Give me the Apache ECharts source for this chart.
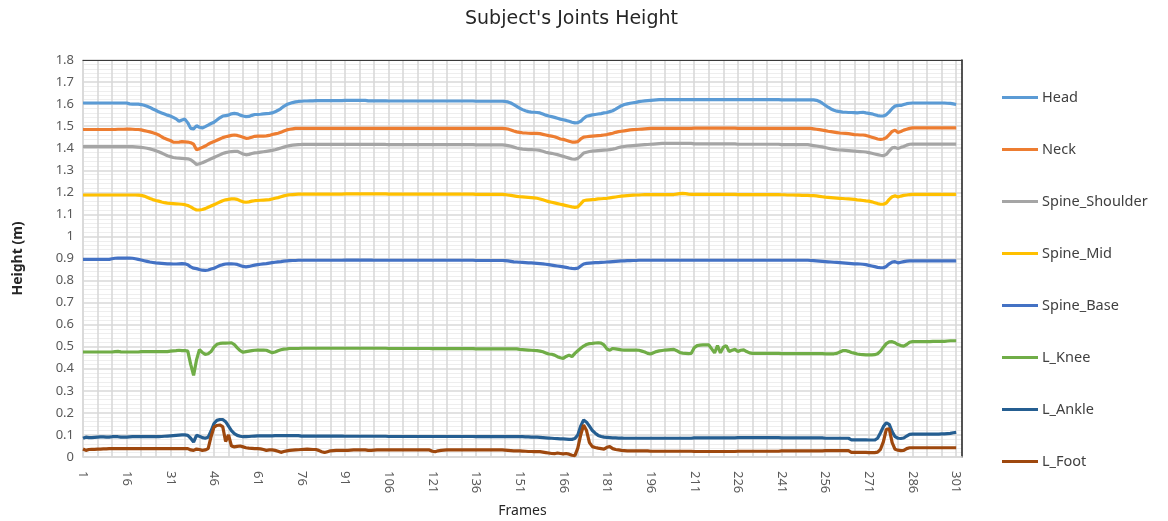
<!DOCTYPE html>
<html>
<head>
<meta charset="utf-8">
<script src="https://cdn.jsdelivr.net/npm/echarts@6/dist/echarts.min.js"></script>
<style>
html,body{margin:0;padding:0;background:#fff;}
#chart{width:1168px;height:521px;}
</style>
</head>
<body>
<div id="chart"></div>
<script>
// Frames 1..303 (data recorded for frames 1..301)
const frames = Array.from({length: 303}, (_, i) => String(i + 1));
const seriesNames = ['Head','Neck','Spine_Shoulder','Spine_Mid','Spine_Base','L_Knee','L_Ankle','L_Foot'];

const head = [
1.605,1.605,1.605,1.605,1.605,1.605,1.605,1.605,1.605,1.605,1.605,1.605,1.605,1.605,1.605,
1.605,1.601,1.600,1.600,1.600,1.598,1.595,1.590,1.585,1.578,1.572,1.565,1.560,1.555,1.550,
1.546,1.540,1.533,1.522,1.528,1.532,1.515,1.490,1.488,1.502,1.495,1.492,1.498,1.505,1.512,
1.518,1.528,1.538,1.546,1.548,1.550,1.556,1.558,1.556,1.550,1.546,1.543,1.544,1.549,1.553,
1.553,1.554,1.556,1.557,1.558,1.560,1.565,1.572,1.580,1.590,1.598,1.603,1.607,1.610,1.612,
1.613,1.614,1.614,1.615,1.615,1.616,1.616,1.616,1.616,1.616,1.616,1.616,1.616,1.616,1.616,
1.617,1.617,1.617,1.617,1.617,1.617,1.617,1.617,1.615,1.615,1.615,1.615,1.615,1.615,1.615,
1.614,1.614,1.614,1.614,1.614,1.614,1.614,1.614,1.614,1.614,1.614,1.614,1.614,1.614,1.614,
1.614,1.614,1.614,1.614,1.614,1.614,1.614,1.614,1.614,1.614,1.614,1.614,1.614,1.614,1.614,
1.613,1.613,1.613,1.613,1.613,1.613,1.613,1.613,1.613,1.613,1.612,1.610,1.605,1.598,1.590,
1.582,1.575,1.570,1.566,1.564,1.563,1.562,1.560,1.555,1.550,1.546,1.543,1.540,1.536,1.532,
1.529,1.526,1.522,1.518,1.515,1.516,1.522,1.535,1.545,1.548,1.551,1.553,1.555,1.557,1.560,
1.562,1.566,1.570,1.577,1.585,1.593,1.598,1.601,1.604,1.606,1.608,1.611,1.613,1.615,1.616,
1.617,1.618,1.619,1.620,1.620,1.620,1.620,1.620,1.620,1.620,1.620,1.620,1.620,1.620,1.620,
1.620,1.620,1.620,1.620,1.620,1.620,1.620,1.620,1.620,1.620,1.620,1.620,1.620,1.620,1.620,
1.620,1.620,1.620,1.620,1.620,1.620,1.620,1.620,1.620,1.620,1.620,1.620,1.620,1.620,1.620,
1.619,1.619,1.619,1.619,1.619,1.619,1.619,1.619,1.619,1.619,1.619,1.619,1.617,1.612,1.604,
1.595,1.586,1.578,1.572,1.568,1.566,1.564,1.563,1.562,1.562,1.561,1.560,1.562,1.563,1.560,
1.558,1.556,1.552,1.548,1.546,1.546,1.552,1.565,1.580,1.591,1.594,1.594,1.598,1.602,1.604,
1.605,1.605,1.605,1.605,1.605,1.605,1.605,1.605,1.605,1.605,1.605,1.605,1.604,1.603,1.601,
1.598];

const neck = [
1.485,1.485,1.485,1.485,1.485,1.485,1.485,1.485,1.485,1.485,1.485,1.485,1.486,1.486,1.486,
1.487,1.487,1.486,1.485,1.485,1.483,1.480,1.477,1.474,1.470,1.466,1.460,1.452,1.445,1.440,
1.435,1.428,1.427,1.428,1.430,1.429,1.428,1.425,1.418,1.393,1.398,1.404,1.410,1.418,1.425,
1.430,1.436,1.442,1.448,1.452,1.455,1.458,1.460,1.458,1.454,1.450,1.445,1.446,1.450,1.454,
1.455,1.455,1.455,1.456,1.458,1.462,1.465,1.468,1.472,1.478,1.483,1.486,1.488,1.490,1.490,
1.490,1.490,1.490,1.490,1.490,1.490,1.490,1.490,1.490,1.490,1.490,1.490,1.490,1.490,1.490,
1.490,1.490,1.490,1.490,1.490,1.490,1.490,1.490,1.490,1.490,1.490,1.490,1.490,1.490,1.490,
1.490,1.490,1.490,1.490,1.490,1.490,1.490,1.490,1.490,1.490,1.490,1.490,1.490,1.490,1.490,
1.490,1.490,1.490,1.490,1.490,1.490,1.490,1.490,1.490,1.490,1.490,1.490,1.490,1.490,1.490,
1.490,1.490,1.490,1.490,1.490,1.490,1.490,1.490,1.490,1.490,1.489,1.487,1.483,1.478,1.474,
1.472,1.470,1.469,1.468,1.467,1.467,1.467,1.466,1.463,1.460,1.457,1.455,1.452,1.447,1.442,
1.440,1.436,1.432,1.428,1.428,1.430,1.442,1.450,1.452,1.454,1.455,1.456,1.457,1.458,1.460,
1.462,1.465,1.468,1.472,1.475,1.477,1.479,1.481,1.483,1.484,1.485,1.486,1.487,1.488,1.489,
1.490,1.490,1.490,1.490,1.490,1.490,1.490,1.490,1.490,1.490,1.490,1.490,1.490,1.490,1.490,
1.491,1.491,1.491,1.491,1.491,1.491,1.491,1.491,1.491,1.491,1.491,1.491,1.491,1.491,1.491,
1.490,1.490,1.490,1.490,1.490,1.490,1.490,1.490,1.490,1.490,1.490,1.490,1.490,1.490,1.490,
1.490,1.490,1.490,1.490,1.490,1.490,1.490,1.490,1.490,1.490,1.490,1.488,1.486,1.484,1.482,
1.480,1.477,1.475,1.473,1.471,1.469,1.468,1.467,1.466,1.464,1.462,1.461,1.460,1.460,1.458,
1.454,1.450,1.446,1.442,1.440,1.442,1.448,1.462,1.476,1.482,1.471,1.476,1.482,1.486,1.490,
1.492,1.492,1.492,1.492,1.492,1.492,1.492,1.492,1.492,1.492,1.492,1.492,1.492,1.492,1.492,
1.492];

const spineShoulder = [
1.407,1.407,1.407,1.407,1.407,1.407,1.407,1.407,1.407,1.407,1.407,1.407,1.407,1.407,1.407,
1.407,1.407,1.407,1.406,1.405,1.404,1.402,1.400,1.397,1.393,1.389,1.384,1.378,1.372,1.366,
1.362,1.358,1.356,1.355,1.354,1.353,1.352,1.348,1.338,1.326,1.330,1.334,1.340,1.346,1.352,
1.358,1.364,1.370,1.376,1.380,1.383,1.385,1.386,1.386,1.380,1.374,1.370,1.372,1.376,1.379,
1.380,1.382,1.384,1.386,1.388,1.390,1.393,1.397,1.401,1.405,1.409,1.412,1.414,1.415,1.416,
1.417,1.417,1.417,1.417,1.417,1.417,1.417,1.417,1.417,1.417,1.417,1.417,1.417,1.417,1.417,
1.417,1.417,1.417,1.417,1.417,1.417,1.417,1.417,1.417,1.417,1.417,1.417,1.417,1.417,1.417,
1.416,1.416,1.416,1.416,1.416,1.416,1.416,1.416,1.416,1.416,1.416,1.416,1.416,1.416,1.416,
1.416,1.416,1.416,1.416,1.416,1.416,1.416,1.416,1.416,1.416,1.416,1.416,1.416,1.416,1.416,
1.415,1.415,1.415,1.415,1.415,1.415,1.415,1.415,1.415,1.415,1.414,1.412,1.409,1.405,1.401,
1.398,1.396,1.395,1.394,1.394,1.393,1.392,1.390,1.386,1.382,1.379,1.377,1.374,1.371,1.367,
1.363,1.359,1.355,1.351,1.350,1.354,1.365,1.378,1.382,1.385,1.387,1.388,1.389,1.390,1.391,
1.392,1.394,1.396,1.399,1.403,1.406,1.408,1.410,1.411,1.412,1.413,1.414,1.415,1.416,1.417,
1.418,1.419,1.420,1.421,1.422,1.422,1.422,1.422,1.422,1.422,1.422,1.422,1.422,1.422,1.422,
1.420,1.420,1.420,1.420,1.420,1.420,1.420,1.420,1.420,1.420,1.420,1.420,1.420,1.420,1.420,
1.418,1.418,1.418,1.418,1.418,1.418,1.418,1.418,1.418,1.418,1.418,1.418,1.418,1.418,1.418,
1.416,1.416,1.416,1.416,1.416,1.416,1.416,1.416,1.416,1.416,1.414,1.412,1.410,1.408,1.406,
1.403,1.400,1.397,1.395,1.393,1.392,1.391,1.390,1.389,1.388,1.387,1.386,1.385,1.384,1.383,
1.380,1.377,1.374,1.371,1.368,1.366,1.372,1.388,1.402,1.404,1.398,1.404,1.408,1.414,1.418,
1.419,1.419,1.419,1.419,1.419,1.419,1.419,1.419,1.419,1.419,1.419,1.419,1.419,1.419,1.419,
1.419];

const spineMid = [
1.188,1.188,1.188,1.188,1.188,1.188,1.188,1.188,1.188,1.188,1.188,1.188,1.188,1.188,1.188,
1.188,1.188,1.188,1.188,1.187,1.186,1.183,1.178,1.172,1.167,1.163,1.160,1.156,1.153,1.151,
1.150,1.149,1.148,1.147,1.146,1.144,1.140,1.134,1.126,1.120,1.120,1.122,1.126,1.132,1.138,
1.144,1.150,1.156,1.162,1.166,1.168,1.170,1.170,1.168,1.162,1.157,1.155,1.157,1.160,1.162,
1.163,1.164,1.165,1.166,1.167,1.170,1.173,1.176,1.180,1.184,1.187,1.189,1.190,1.191,1.192,
1.192,1.192,1.192,1.192,1.192,1.192,1.192,1.192,1.192,1.192,1.192,1.192,1.192,1.192,1.192,
1.193,1.193,1.193,1.193,1.193,1.193,1.193,1.193,1.193,1.193,1.193,1.193,1.193,1.193,1.193,
1.192,1.192,1.192,1.192,1.192,1.192,1.192,1.192,1.192,1.192,1.192,1.192,1.192,1.192,1.192,
1.192,1.192,1.192,1.192,1.192,1.192,1.192,1.192,1.192,1.192,1.192,1.192,1.192,1.192,1.192,
1.191,1.191,1.191,1.191,1.191,1.191,1.191,1.191,1.191,1.191,1.190,1.188,1.186,1.184,1.182,
1.180,1.179,1.178,1.177,1.176,1.175,1.173,1.170,1.166,1.162,1.158,1.155,1.152,1.149,1.146,
1.143,1.140,1.137,1.134,1.132,1.134,1.148,1.162,1.165,1.166,1.167,1.168,1.170,1.171,1.172,
1.173,1.175,1.177,1.179,1.181,1.183,1.184,1.185,1.186,1.187,1.188,1.188,1.189,1.190,1.190,
1.190,1.190,1.190,1.190,1.190,1.190,1.190,1.190,1.190,1.192,1.194,1.195,1.194,1.192,1.191,
1.191,1.191,1.191,1.191,1.191,1.191,1.191,1.191,1.191,1.191,1.191,1.191,1.191,1.191,1.191,
1.190,1.190,1.190,1.190,1.190,1.190,1.190,1.190,1.190,1.190,1.190,1.190,1.190,1.190,1.190,
1.189,1.189,1.188,1.188,1.188,1.187,1.187,1.186,1.186,1.186,1.185,1.185,1.184,1.182,1.180,
1.178,1.177,1.176,1.175,1.174,1.173,1.172,1.171,1.170,1.169,1.168,1.166,1.165,1.163,1.161,
1.160,1.157,1.153,1.149,1.146,1.146,1.152,1.168,1.180,1.184,1.179,1.183,1.186,1.188,1.190,
1.191,1.191,1.191,1.191,1.191,1.191,1.191,1.191,1.191,1.191,1.191,1.191,1.191,1.191,1.191,
1.191];

const spineBase = [
0.896,0.896,0.896,0.896,0.896,0.896,0.896,0.896,0.896,0.896,0.899,0.901,0.902,0.902,0.902,
0.902,0.902,0.901,0.899,0.896,0.893,0.890,0.887,0.884,0.882,0.880,0.879,0.878,0.877,0.876,
0.876,0.875,0.875,0.876,0.877,0.876,0.872,0.862,0.856,0.854,0.850,0.847,0.846,0.848,0.852,
0.856,0.862,0.868,0.872,0.875,0.876,0.876,0.875,0.873,0.868,0.864,0.862,0.864,0.867,0.870,
0.872,0.874,0.876,0.877,0.879,0.881,0.883,0.885,0.886,0.888,0.889,0.890,0.891,0.891,0.892,
0.892,0.892,0.892,0.892,0.892,0.892,0.892,0.892,0.892,0.892,0.892,0.892,0.892,0.892,0.892,
0.893,0.893,0.893,0.893,0.893,0.893,0.893,0.893,0.893,0.893,0.892,0.892,0.892,0.892,0.892,
0.892,0.892,0.892,0.892,0.892,0.892,0.892,0.892,0.892,0.892,0.892,0.892,0.892,0.892,0.892,
0.892,0.892,0.892,0.892,0.892,0.892,0.892,0.892,0.892,0.892,0.892,0.892,0.892,0.892,0.892,
0.891,0.891,0.891,0.891,0.891,0.891,0.891,0.891,0.891,0.891,0.890,0.889,0.887,0.885,0.884,
0.883,0.882,0.881,0.880,0.880,0.879,0.878,0.877,0.876,0.874,0.872,0.870,0.868,0.866,0.864,
0.862,0.860,0.857,0.855,0.854,0.856,0.866,0.875,0.878,0.879,0.880,0.881,0.881,0.882,0.883,
0.884,0.885,0.886,0.887,0.888,0.889,0.889,0.890,0.890,0.891,0.891,0.892,0.892,0.892,0.892,
0.892,0.892,0.892,0.892,0.892,0.892,0.892,0.892,0.892,0.892,0.892,0.892,0.892,0.892,0.892,
0.892,0.892,0.892,0.892,0.892,0.892,0.892,0.892,0.892,0.892,0.892,0.892,0.892,0.892,0.892,
0.892,0.892,0.892,0.892,0.892,0.892,0.892,0.892,0.892,0.892,0.892,0.892,0.892,0.892,0.892,
0.892,0.892,0.892,0.892,0.892,0.892,0.892,0.892,0.892,0.892,0.891,0.890,0.889,0.888,0.887,
0.886,0.885,0.884,0.883,0.882,0.881,0.880,0.879,0.878,0.877,0.876,0.876,0.875,0.874,0.872,
0.869,0.866,0.863,0.860,0.858,0.858,0.864,0.876,0.884,0.886,0.880,0.883,0.886,0.888,0.889,
0.889,0.889,0.889,0.889,0.889,0.889,0.889,0.889,0.889,0.889,0.889,0.889,0.889,0.889,0.889,
0.889];

const lKnee = [
0.476,0.476,0.476,0.476,0.476,0.476,0.476,0.476,0.476,0.476,0.476,0.478,0.479,0.477,0.476,
0.476,0.476,0.476,0.476,0.476,0.478,0.478,0.478,0.478,0.478,0.478,0.478,0.478,0.478,0.478,
0.480,0.481,0.482,0.484,0.482,0.483,0.480,0.420,0.370,0.440,0.487,0.474,0.465,0.468,0.478,
0.498,0.511,0.515,0.516,0.516,0.517,0.518,0.510,0.495,0.482,0.475,0.478,0.480,0.482,0.484,
0.485,0.485,0.485,0.484,0.478,0.473,0.476,0.482,0.486,0.489,0.490,0.492,0.492,0.492,0.492,
0.493,0.493,0.493,0.493,0.493,0.493,0.493,0.493,0.493,0.493,0.493,0.493,0.493,0.493,0.493,
0.493,0.493,0.493,0.493,0.493,0.493,0.493,0.493,0.493,0.493,0.493,0.493,0.493,0.493,0.493,
0.492,0.492,0.492,0.492,0.492,0.492,0.492,0.492,0.492,0.492,0.492,0.492,0.492,0.492,0.492,
0.491,0.491,0.491,0.491,0.491,0.491,0.491,0.491,0.491,0.491,0.491,0.491,0.491,0.491,0.491,
0.490,0.490,0.490,0.490,0.490,0.490,0.490,0.490,0.490,0.490,0.490,0.490,0.490,0.490,0.490,
0.488,0.487,0.486,0.485,0.484,0.483,0.482,0.480,0.477,0.472,0.467,0.466,0.462,0.455,0.450,
0.447,0.456,0.462,0.455,0.470,0.482,0.493,0.503,0.510,0.514,0.515,0.517,0.518,0.516,0.508,
0.490,0.484,0.492,0.490,0.488,0.486,0.485,0.485,0.485,0.485,0.485,0.484,0.480,0.476,0.470,
0.467,0.473,0.478,0.481,0.483,0.485,0.486,0.487,0.488,0.482,0.474,0.471,0.470,0.469,0.470,
0.495,0.505,0.507,0.508,0.508,0.508,0.490,0.472,0.505,0.472,0.498,0.505,0.478,0.484,0.488,
0.478,0.484,0.486,0.478,0.472,0.470,0.470,0.470,0.470,0.470,0.470,0.470,0.470,0.470,0.470,
0.469,0.469,0.469,0.469,0.469,0.469,0.469,0.469,0.469,0.469,0.469,0.469,0.469,0.469,0.469,
0.468,0.468,0.468,0.468,0.470,0.476,0.482,0.483,0.479,0.474,0.471,0.467,0.465,0.464,0.463,
0.463,0.463,0.464,0.468,0.480,0.498,0.514,0.522,0.523,0.518,0.510,0.505,0.503,0.510,0.520,
0.523,0.523,0.523,0.523,0.523,0.523,0.523,0.524,0.524,0.524,0.524,0.524,0.526,0.527,0.527,
0.527];

const lAnkle = [
0.085,0.090,0.088,0.088,0.089,0.090,0.091,0.091,0.090,0.090,0.092,0.093,0.092,0.090,0.090,
0.090,0.091,0.092,0.092,0.092,0.092,0.092,0.092,0.092,0.092,0.092,0.092,0.093,0.094,0.095,
0.096,0.097,0.098,0.099,0.100,0.100,0.098,0.085,0.068,0.098,0.094,0.088,0.085,0.090,0.118,
0.152,0.166,0.170,0.170,0.160,0.140,0.120,0.106,0.098,0.094,0.092,0.092,0.093,0.094,0.095,
0.096,0.096,0.096,0.096,0.096,0.096,0.097,0.097,0.097,0.097,0.097,0.097,0.097,0.097,0.097,
0.095,0.095,0.095,0.095,0.095,0.095,0.095,0.095,0.095,0.095,0.095,0.095,0.095,0.095,0.095,
0.094,0.094,0.094,0.094,0.094,0.094,0.094,0.094,0.094,0.094,0.094,0.094,0.094,0.094,0.094,
0.093,0.093,0.093,0.093,0.093,0.093,0.093,0.093,0.093,0.093,0.093,0.093,0.093,0.093,0.093,
0.093,0.093,0.093,0.093,0.093,0.093,0.093,0.093,0.093,0.093,0.093,0.093,0.093,0.093,0.093,
0.092,0.092,0.092,0.092,0.092,0.092,0.092,0.092,0.092,0.092,0.092,0.092,0.092,0.092,0.092,
0.092,0.092,0.091,0.091,0.090,0.090,0.090,0.089,0.088,0.087,0.086,0.085,0.084,0.083,0.082,
0.082,0.081,0.080,0.080,0.084,0.100,0.140,0.168,0.158,0.140,0.120,0.108,0.098,0.093,0.090,
0.089,0.088,0.087,0.087,0.086,0.086,0.085,0.085,0.085,0.085,0.085,0.085,0.085,0.085,0.085,
0.085,0.085,0.085,0.085,0.085,0.085,0.085,0.085,0.085,0.085,0.085,0.085,0.085,0.085,0.085,
0.087,0.087,0.087,0.087,0.087,0.087,0.087,0.087,0.087,0.087,0.087,0.087,0.087,0.087,0.087,
0.088,0.088,0.088,0.088,0.088,0.088,0.088,0.088,0.088,0.088,0.088,0.088,0.088,0.088,0.088,
0.087,0.087,0.087,0.087,0.087,0.087,0.087,0.087,0.087,0.087,0.087,0.087,0.087,0.087,0.087,
0.085,0.085,0.085,0.085,0.085,0.085,0.085,0.085,0.085,0.078,0.078,0.078,0.078,0.078,0.078,
0.077,0.077,0.077,0.085,0.110,0.138,0.155,0.148,0.115,0.092,0.085,0.084,0.086,0.095,0.103,
0.104,0.104,0.104,0.104,0.104,0.104,0.104,0.104,0.104,0.104,0.105,0.105,0.106,0.107,0.110,
0.112];

const lFoot = [
0.036,0.030,0.034,0.035,0.035,0.036,0.036,0.037,0.037,0.038,0.038,0.038,0.038,0.038,0.038,
0.038,0.038,0.038,0.038,0.038,0.038,0.038,0.038,0.038,0.038,0.038,0.038,0.038,0.038,0.038,
0.038,0.038,0.038,0.038,0.038,0.038,0.038,0.032,0.030,0.036,0.034,0.030,0.032,0.038,0.092,
0.135,0.143,0.145,0.138,0.070,0.100,0.050,0.046,0.048,0.050,0.046,0.042,0.040,0.039,0.038,
0.038,0.037,0.034,0.030,0.032,0.032,0.030,0.026,0.021,0.025,0.028,0.030,0.031,0.032,0.033,
0.034,0.035,0.036,0.035,0.034,0.034,0.030,0.024,0.020,0.024,0.028,0.029,0.030,0.030,0.030,
0.030,0.030,0.031,0.032,0.032,0.032,0.032,0.032,0.030,0.030,0.031,0.032,0.032,0.032,0.032,
0.032,0.032,0.032,0.032,0.032,0.032,0.032,0.032,0.032,0.032,0.032,0.032,0.032,0.032,0.032,
0.026,0.024,0.028,0.030,0.031,0.032,0.032,0.032,0.032,0.032,0.032,0.032,0.032,0.032,0.032,
0.032,0.032,0.032,0.032,0.032,0.032,0.032,0.032,0.032,0.032,0.031,0.030,0.029,0.028,0.028,
0.028,0.027,0.026,0.025,0.025,0.024,0.024,0.024,0.022,0.020,0.018,0.016,0.015,0.018,0.016,
0.014,0.016,0.013,0.008,0.006,0.040,0.100,0.145,0.120,0.065,0.047,0.043,0.040,0.038,0.036,
0.044,0.047,0.038,0.034,0.032,0.030,0.029,0.028,0.028,0.028,0.028,0.028,0.028,0.028,0.028,
0.026,0.026,0.026,0.026,0.026,0.026,0.026,0.026,0.026,0.026,0.026,0.026,0.026,0.026,0.026,
0.025,0.025,0.025,0.025,0.025,0.025,0.025,0.025,0.025,0.025,0.025,0.025,0.025,0.025,0.025,
0.026,0.026,0.026,0.026,0.026,0.026,0.026,0.026,0.026,0.026,0.026,0.026,0.026,0.026,0.026,
0.028,0.028,0.028,0.028,0.028,0.028,0.028,0.028,0.028,0.028,0.028,0.028,0.028,0.028,0.028,
0.029,0.029,0.029,0.029,0.029,0.029,0.029,0.029,0.029,0.021,0.021,0.021,0.021,0.021,0.021,
0.020,0.020,0.020,0.022,0.035,0.070,0.125,0.128,0.065,0.035,0.031,0.029,0.030,0.038,0.042,
0.042,0.042,0.042,0.042,0.042,0.042,0.042,0.042,0.042,0.042,0.042,0.042,0.042,0.042,0.042,
0.042];

const seriesData = [head, neck, spineShoulder, spineMid, spineBase, lKnee, lAnkle, lFoot];
const colors = ['#5B9BD5','#ED7D31','#A5A5A5','#FFC000','#4472C4','#70AD47','#255E91','#9E480E'];

const FONT = '"Noto Sans", "Open Sans", sans-serif';
const chart = echarts.init(document.getElementById('chart'), null, {renderer: 'canvas'});

chart.setOption({
  backgroundColor: '#ffffff',
  animation: false,
  color: colors,
  title: {
    text: "Subject's Joints Height",
    left: 465,
    top: 10,
    padding: 0,
    textStyle: {fontFamily: '"DejaVu Sans", sans-serif', fontSize: 19, fontWeight: 'normal', color: '#262626'}
  },
  legend: {
    orient: 'vertical',
    left: 1002,
    top: 90,
    padding: 0,
    icon: 'rect',
    itemWidth: 36,
    itemHeight: 3,
    itemGap: 37,
    data: seriesNames,
    textStyle: {fontFamily: FONT, fontSize: 14.5, color: '#404040', padding: [0, 0, 0, -1]}
  },
  grid: {left: 83, right: 206, top: 60, bottom: 64, containLabel: false, outerBoundsMode: 'none'},
  xAxis: [{
    type: 'category',
    data: frames,
    boundaryGap: false,
    name: 'Frames',
    nameLocation: 'middle',
    nameGap: 47,
    nameTextStyle: {fontFamily: FONT, fontSize: 14, color: '#262626'},
    axisLine: {show: true, onZero: false, lineStyle: {color: '#d9d9d9', width: 1.5}},
    axisTick: {show: false},
    axisLabel: {interval: 14, rotate: -90, margin: 14, fontFamily: FONT, fontSize: 13, color: '#595959'},
    splitLine: {show: true, interval: 4, lineStyle: {color: '#d9d9d9', width: 1.6}}
  }, {
    type: 'category',
    data: frames,
    boundaryGap: false,
    position: 'top',
    axisLine: {show: true, onZero: false, lineStyle: {color: '#3a3a3a', width: 1.2}},
    axisTick: {show: false},
    axisLabel: {show: false},
    splitLine: {show: false}
  }],
  yAxis: [{
    type: 'value',
    min: 0,
    max: 1.8,
    interval: 0.1,
    name: 'Height (m)',
    nameLocation: 'middle',
    nameGap: 58,
    nameTextStyle: {fontFamily: FONT, fontSize: 14, fontWeight: 'bold', color: '#262626'},
    axisLine: {show: true, onZero: false, lineStyle: {color: '#d9d9d9', width: 1.5}},
    axisTick: {show: false},
    axisLabel: {margin: 9, fontFamily: FONT, fontSize: 13, color: '#595959'},
    splitLine: {show: true, lineStyle: {color: '#d9d9d9', width: 1.6}},
    minorTick: {show: false, splitNumber: 5},
    minorSplitLine: {show: true, lineStyle: {color: '#eeeeee', width: 1}}
  }, {
    type: 'value',
    min: 0,
    max: 1.8,
    interval: 0.1,
    position: 'right',
    axisLine: {show: true, onZero: false, lineStyle: {color: '#1a1a1a', width: 1.5}},
    axisTick: {show: false},
    axisLabel: {show: false},
    splitLine: {show: false}
  }],
  series: seriesNames.map((name, i) => ({
    name: name,
    type: 'line',
    data: seriesData[i],
    xAxisIndex: 0,
    yAxisIndex: 0,
    symbol: 'none',
    smooth: false,
    lineStyle: {width: 3.2, color: colors[i]},
    itemStyle: {color: colors[i]}
  }))
});
</script>
</body>
</html>
